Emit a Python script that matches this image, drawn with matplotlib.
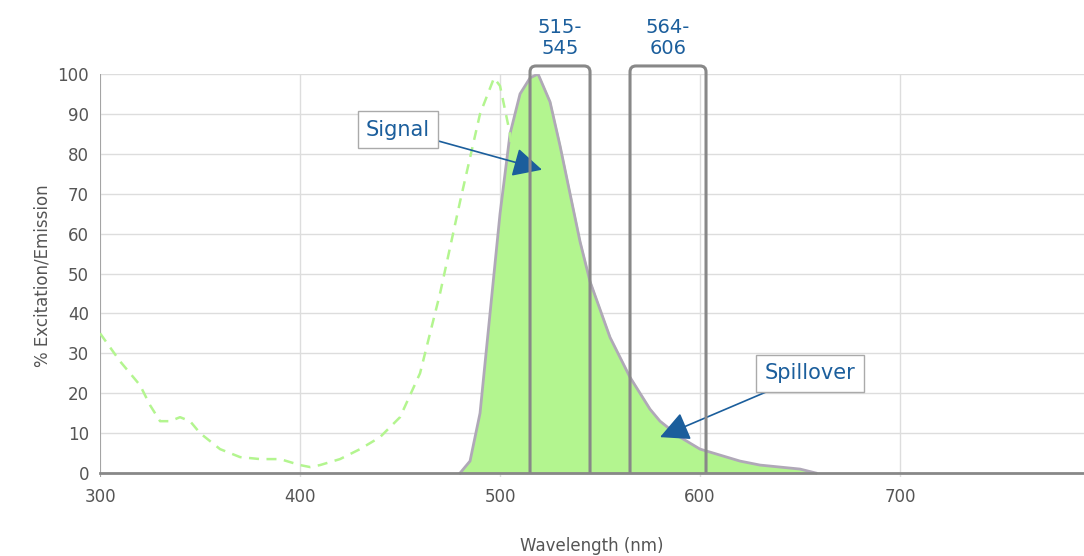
import matplotlib.pyplot as plt
from matplotlib.patches import FancyBboxPatch, Rectangle

em_x = [480, 485, 490, 495, 500, 505, 510, 515, 519, 525, 530, 535, 540, 545, 550, 555,
        560, 565, 570, 575, 580, 590, 600, 610, 620, 630, 640, 650, 658]
em_y = [0, 3, 15, 40, 65, 85, 95, 99, 100, 93, 82, 70, 58, 48, 41, 34,
        29, 24, 20, 16, 13, 9, 6, 4.5, 3, 2, 1.5, 1, 0]

ex_x = [300, 310, 320, 325, 330, 335, 340, 345, 350, 360, 370, 380, 390, 400, 405, 410,
        420, 430, 440, 450, 460, 470, 480, 490, 497, 500, 505, 510, 515, 520, 525, 530, 535]
ex_y = [35, 28, 22, 17, 13, 13, 14, 13, 10, 6, 4, 3.5, 3.5, 2, 1.5, 2,
        3.5, 6, 9, 14, 25, 45, 68, 90, 99, 97, 85, 60, 35, 15, 6, 2, 0]

filters = [(515, 545), (565, 603)]
filter_labels = ["515-\n545", "564-\n606"]

BLUE = "#1b5e9c"

fig = plt.figure(figsize=(10.84, 5.56), dpi=100)
ax = fig.add_axes([0.0923, 0.142, 0.9077, 0.725])

ax.fill_between(em_x, em_y, color="#b3f58f", zorder=2)
ax.plot(em_x, em_y, color="#b0a8b8", lw=2, zorder=3)
ax.plot(ex_x, ex_y, color="#b3f58f", lw=1.8, ls=(0, (4, 3)), zorder=3)

clip = Rectangle((300, 0), 500, 110, transform=ax.transData)
for (a, b), lab in zip(filters, filter_labels):
    box = FancyBboxPatch((a, -20), b - a, 122, boxstyle="round,pad=0,rounding_size=3",
                         mutation_aspect=0.5, fill=False, ec="#888888", lw=2.2, zorder=4)
    ax.add_patch(box)
    box.set_clip_path(clip)
    ax.text((a + b) / 2, 104, lab, ha="center", va="bottom", color=BLUE,
            fontsize=14, linespacing=1.1, clip_on=False)

ax.plot([300, 800], [0, 0], color="#888888", lw=2, zorder=6, clip_on=False)

ax.annotate("Signal", xy=(521, 76), xytext=(449, 86), color=BLUE, fontsize=15,
            ha="center", va="center",
            bbox=dict(boxstyle="square,pad=0.4", fc="white", ec="#aaaaaa"),
            arrowprops=dict(arrowstyle="-|>,head_length=1.2,head_width=0.6",
                            color=BLUE, lw=1.2, shrinkA=0, shrinkB=0))
ax.annotate("Spillover", xy=(580, 9), xytext=(655, 25), color=BLUE, fontsize=15,
            ha="center", va="center",
            bbox=dict(boxstyle="square,pad=0.4", fc="white", ec="#aaaaaa"),
            arrowprops=dict(arrowstyle="-|>,head_length=1.2,head_width=0.6",
                            color=BLUE, lw=1.2, shrinkA=0, shrinkB=0))

ax.set_xlim(300, 792)
ax.set_ylim(-1, 100)
ax.set_xticks([300, 400, 500, 600, 700])
ax.set_yticks(range(0, 101, 10))
ax.grid(True, color="#dddddd", lw=1)
ax.set_axisbelow(True)
for s in ax.spines.values():
    s.set_visible(False)
ax.axvline(300, color="#999999", lw=1.2, zorder=1)
ax.tick_params(colors="#555555", labelsize=12, length=0, pad=8)
ax.set_xlabel("Wavelength (nm)", color="#555555", fontsize=12, labelpad=22)
ax.set_ylabel("% Excitation/Emission", color="#555555", fontsize=12)

fig.savefig("out.png", dpi=100)
